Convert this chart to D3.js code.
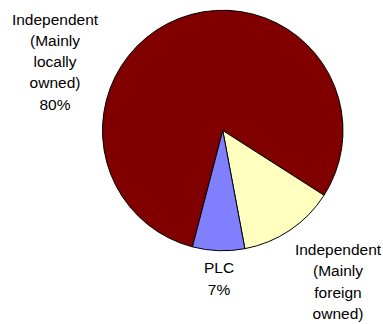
<!DOCTYPE html>
<html>
<head>
<meta charset="utf-8">
<script src="https://cdn.jsdelivr.net/npm/d3@7"></script>
<style>
  html, body { margin: 0; padding: 0; background: #fff; }
  svg { display: block; }
  text { font-family: "Liberation Sans", Arial, sans-serif; font-size: 15.5px; fill: #000; }
</style>
</head>
<body>
<div id="chart"></div>
<script>
const categories = ["Independent (Mainly locally owned)", "Independent (Mainly foreign owned)", "PLC"];
const values = [80, 13, 7];
const colors = ["#800000", "#FFFFC0", "#8080FF"];
const labelLines = [
  ["Independent", "(Mainly", "locally", "owned)", "80%"],
  ["Independent", "(Mainly", "foreign", "owned)"],
  ["PLC", "7%"]
];

const W = 383, H = 324;
const cx = 222.75, cy = 130.5, R = 120.25;
const startDeg = 194.6;

const svg = d3.select("#chart").append("svg").attr("width", W).attr("height", H);

const data = categories.map((c, i) => ({ name: c, value: values[i], color: colors[i], lines: labelLines[i] }));

const pie = d3.pie().value(d => d.value).sort(null)
  .startAngle(startDeg * Math.PI / 180)
  .endAngle(startDeg * Math.PI / 180 + 2 * Math.PI);
const arc = d3.arc().innerRadius(0).outerRadius(R);

const g = svg.append("g").attr("transform", `translate(${cx},${cy})`);
g.selectAll("path").data(pie(data)).join("path")
  .attr("d", arc)
  .attr("fill", d => d.data.color)
  .attr("stroke", "#000")
  .attr("stroke-width", 1)
  .attr("stroke-linejoin", "round");

// label anchor positions (centre x, first baseline y)
const labelPos = [[55, 24.5], [338, 255], [219, 273.3]];
const lineH = 21.3;

data.forEach((d, i) => {
  const t = svg.append("text")
    .attr("text-anchor", "middle")
    .attr("x", labelPos[i][0])
    .attr("y", labelPos[i][1]);
  d.lines.forEach((ln, j) => {
    t.append("tspan").attr("x", labelPos[i][0]).attr("y", labelPos[i][1] + j * lineH).text(ln);
  });
});
</script>
</body>
</html>
